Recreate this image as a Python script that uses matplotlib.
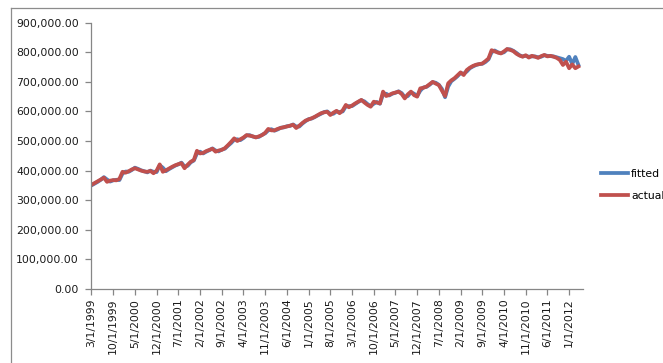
import matplotlib.pyplot as plt
from matplotlib.lines import Line2D
import numpy as np

# monthly values in thousands, March 1999 through April 2012
actual = [
    352, 358, 364, 370, 376, 362, 366, 368, 367, 372,
    396, 393, 398, 404, 408, 404, 400, 397, 396, 399,
    391, 400, 421, 396, 401, 407, 413, 418, 422, 425,
    408, 420, 430, 436, 467, 458, 460, 466, 470, 474,
    464, 468, 470, 476, 486, 497, 509, 500, 506, 512,
    520, 518, 516, 512, 516, 520, 528, 541, 536, 536,
    541, 544, 547, 549, 552, 555, 544, 552, 561, 569,
    573, 577, 582, 588, 594, 597, 599, 588, 596, 602,
    594, 604, 622, 614, 620, 627, 633, 639, 630, 622,
    616, 633, 630, 627, 667, 652, 656, 661, 664, 667,
    659, 644, 658, 667, 655, 650, 678, 680, 684, 692,
    700, 694, 689, 670, 652, 695, 705, 712, 722, 732,
    723, 740, 748, 754, 758, 760, 762, 770, 779, 807,
    803, 799, 796, 803, 811, 808, 804, 795, 789, 785,
    790, 782, 788, 785, 781, 787, 791, 786, 788, 785,
    781, 774, 757, 768, 746, 759, 746, 752,
]

fitted = [
    350, 356, 362, 369, 378, 370, 363, 367, 369, 368,
    390, 397, 396, 402, 410, 406, 401, 398, 394, 400,
    396, 395, 418, 410, 398, 405, 411, 417, 421, 427,
    414, 416, 428, 434, 458, 464, 458, 464, 469, 475,
    468, 465, 471, 474, 484, 493, 504, 506, 503, 510,
    519, 520, 515, 513, 514, 521, 526, 536, 540, 535,
    539, 545, 546, 550, 551, 556, 549, 549, 559, 567,
    574, 576, 581, 587, 592, 598, 600, 592, 592, 600,
    598, 600, 617, 618, 618, 625, 632, 638, 634, 625,
    618, 626, 632, 626, 658, 660, 654, 660, 663, 668,
    662, 649, 652, 665, 660, 652, 670, 681, 683, 690,
    699, 697, 690, 676, 648, 684, 702, 710, 719, 730,
    727, 735, 746, 752, 757, 760, 761, 767, 776, 800,
    806, 800, 797, 800, 810, 810, 805, 798, 790, 786,
    788, 785, 786, 786, 783, 785, 790, 788, 787, 786,
    783, 780, 777, 771, 785, 760, 784, 757,
]

tick_labels = [
    '3/1/1999', '10/1/1999', '5/1/2000', '12/1/2000', '7/1/2001',
    '2/1/2002', '9/1/2002', '4/1/2003', '11/1/2003', '6/1/2004',
    '1/1/2005', '8/1/2005', '3/1/2006', '10/1/2006', '5/1/2007',
    '12/1/2007', '7/1/2008', '2/1/2009', '9/1/2009', '4/1/2010',
    '11/1/2010', '6/1/2011', '1/1/2012',
]

plt.rcParams['font.family'] = ['DejaVu Sans']

fig = plt.figure(figsize=(6.63, 3.63), dpi=100)
ax = fig.add_axes([0.138, 0.204, 0.741, 0.7335])

# chart frame, only top and left edges fall inside the image
fx, fy = 10.5 / 663, 1 - 7.5 / 363
fig.add_artist(Line2D([fx, 1], [fy, fy], transform=fig.transFigure,
                      color='#8c8c8c', lw=0.9))
fig.add_artist(Line2D([fx, fx], [0, fy], transform=fig.transFigure,
                      color='#8c8c8c', lw=0.9))

months = np.arange(len(actual))
ax.plot(months, np.array(fitted) * 1000, color='#4F81BD', lw=2.7,
        label='fitted', solid_joinstyle='round')
ax.plot(months, np.array(actual) * 1000, color='#C0504D', lw=2.7,
        label='actual', solid_joinstyle='round')

ax.set_xlim(0, 158.4)
ax.set_ylim(0, 900000)
ax.set_yticks(np.arange(0, 900001, 100000))
ax.set_yticklabels(['{:,.2f}'.format(v) for v in np.arange(0, 900001, 100000)])
ax.set_xticks(np.arange(0, 7 * len(tick_labels), 7))
ax.set_xticklabels(tick_labels, rotation=90)

for side in ['top', 'right']:
    ax.spines[side].set_visible(False)
for side in ['left', 'bottom']:
    ax.spines[side].set_color('#868686')
    ax.spines[side].set_linewidth(0.9)
ax.tick_params(axis='both', colors='#868686', length=4, width=0.9,
               labelcolor='#1a1a1a', labelsize=7.8)
ax.tick_params(axis='x', pad=3)
ax.tick_params(axis='y', pad=5)

ax.legend(loc='center left', bbox_to_anchor=(1.037, 0.39), frameon=False,
          fontsize=7.8, handlelength=2.5, handletextpad=0.28,
          labelspacing=1.1, borderaxespad=0, borderpad=0)

fig.savefig('out.png', dpi=100)
